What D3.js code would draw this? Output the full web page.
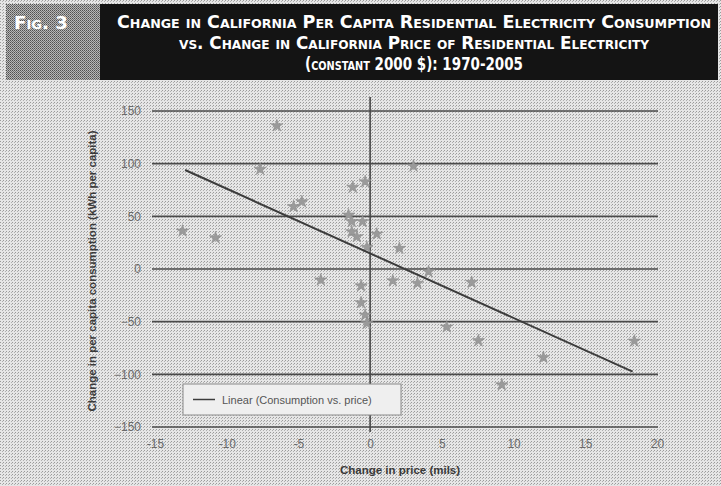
<!DOCTYPE html>
<html><head><meta charset="utf-8">
<script src="https://cdn.jsdelivr.net/npm/d3@7"></script>
<style>
html,body{margin:0;padding:0;background:#d9d9d9;}
svg{display:block;}
</style></head>
<body>
<script>
// ---- data ----
const priceChange = [-6.5,-7.67,-5.34,-4.76,-13.08,-10.78,-3.44,
  3.02,-0.35,-1.21,-1.51,-1.28,-0.53,-1.28,-0.93,0.46,2.04,-0.23,4.07,1.58,3.3,-0.63,-0.63,-0.35,-0.23,
  5.34,7.08,7.55,12.08,18.42,9.18];
const consumptionChange = [136,94.7,59.2,63.9,36,29.7,-10.4,
  97.8,82.9,77.6,51.3,45,45,35.4,30.7,33.2,19.6,20.6,-2.5,-11.1,-13.6,-16,-32,-43.7,-51.6,
  -55,-12.7,-68,-84,-68.4,-110];
const trendX = [-12.9, 18.3];
const trendY = [94, -97.5];
const xTicks = [-15,-10,-5,0,5,10,15,20];
const yTicks = [150,100,50,0,-50,-100,-150];
const titleLines = ["Change in California Per Capita Residential Electricity Consumption",
  "vs. Change in California Price of Residential Electricity",
  "(constant 2000 $): 1970-2005"];
const figLabel = "Fig. 3";
const xTitle = "Change in price (mils)";
const yTitle = "Change in per capita consumption (kWh per capita)";
const legendLabel = "Linear (Consumption vs. price)";

const W = 721, H = 486;
const svg = d3.select("body").append("svg").attr("width", W).attr("height", H);

// dithered-look background pattern
const defs = svg.append("defs");
const pat = defs.append("pattern").attr("id","dith").attr("width",3).attr("height",3).attr("patternUnits","userSpaceOnUse");
pat.append("rect").attr("width",3).attr("height",3).attr("fill","#e6e6e6");
pat.append("rect").attr("x",0).attr("y",0).attr("width",1).attr("height",1).attr("fill","#9a9a9a");
pat.append("rect").attr("x",2).attr("y",1).attr("width",1).attr("height",1).attr("fill","#b0b0b0");
svg.append("rect").attr("width",W).attr("height",H).attr("fill","url(#dith)");

// header
const pat2 = defs.append("pattern").attr("id","dith2").attr("width",2).attr("height",2).attr("patternUnits","userSpaceOnUse");
pat2.append("rect").attr("width",2).attr("height",2).attr("fill","#b8b8b8");
pat2.append("rect").attr("width",1).attr("height",1).attr("fill","#505050");
pat2.append("rect").attr("x",1).attr("y",1).attr("width",1).attr("height",1).attr("fill","#707070");
svg.append("rect").attr("x",6).attr("y",4).attr("width",94).attr("height",76).attr("fill","url(#dith2)");
svg.append("rect").attr("x",100).attr("y",4).attr("width",618).attr("height",76).attr("fill","#141414");
svg.append("text").attr("x",14).attr("y",29)
  .attr("font-family","DejaVu Sans Condensed, sans-serif").attr("font-weight","bold")
  .attr("font-size",18).attr("fill","#ffffff").style("font-variant","small-caps")
  .attr("textLength",54).attr("lengthAdjust","spacingAndGlyphs").text(figLabel);
const tlen = [594, 470, 218];
titleLines.forEach((t,i)=>{
  svg.append("text").attr("x",414).attr("y",28 + i*21).attr("text-anchor","middle")
    .attr("font-family","DejaVu Sans Condensed, sans-serif").attr("font-weight","bold")
    .attr("font-size",18).attr("fill","#ffffff").style("font-variant","small-caps")
    .attr("textLength",tlen[i]).attr("lengthAdjust","spacingAndGlyphs").text(t);
});

// scales
const x = d3.scaleLinear().domain([-15,20]).range([155,657]);
const y = d3.scaleLinear().domain([-150,150]).range([427,111]);

// gridlines
const g = svg.append("g");
g.selectAll("line.grid").data(yTicks).join("line")
  .attr("x1",152).attr("x2",658)
  .attr("y1",d=>y(d)).attr("y2",d=>y(d))
  .attr("stroke","#4a4a4a").attr("stroke-width",1.6);

// y axis (crossing at x=0)
g.append("line").attr("x1",x(0)).attr("x2",x(0)).attr("y1",97).attr("y2",432)
  .attr("stroke","#4a4a4a").attr("stroke-width",1.6);

// y tick labels
const yAxis = d3.axisLeft(y).tickValues(yTicks).tickSize(0).tickPadding(0);
const ya = svg.append("g").attr("transform","translate(141,0)").call(yAxis);
ya.select(".domain").remove();
ya.selectAll("text").attr("font-family","Liberation Sans, Arial, sans-serif")
  .attr("font-size",12).attr("fill","#6a6a6a");

// x tick labels
const xAxis = d3.axisBottom(x).tickValues(xTicks).tickSize(0).tickPadding(0).tickFormat(d3.format("d"));
const xa = svg.append("g").attr("transform","translate(0,439)").call(xAxis);
xa.select(".domain").remove();
xa.selectAll("text").attr("font-family","Liberation Sans, Arial, sans-serif")
  .attr("font-size",12).attr("fill","#6a6a6a");
xa.selectAll("text").text(d=> d<0 ? "-" + Math.abs(d) : d);

// axis titles
svg.append("text").attr("x",400).attr("y",474).attr("text-anchor","middle")
  .attr("font-family","Liberation Sans Narrow, Arial Narrow, sans-serif").attr("font-weight","bold")
  .attr("font-size",11.5).attr("fill","#3a3a3a").text(xTitle);
svg.append("text").attr("transform","translate(96,271) rotate(-90)").attr("text-anchor","middle")
  .attr("font-family","Liberation Sans Narrow, Arial Narrow, sans-serif").attr("font-weight","bold")
  .attr("font-size",11.5).attr("fill","#3a3a3a").text(yTitle);

// points
const pts = priceChange.map((p,i)=>({x:p, y:consumptionChange[i]}));
svg.append("g").selectAll("path").data(pts).join("path")
  .attr("d", d3.symbol().type(d3.symbolStar).size(48))
  .attr("transform", d=>`translate(${x(d.x)},${y(d.y)})`)
  .attr("fill","#9a9a9a").attr("stroke","#888").attr("stroke-width",0.5);

// trend line
const line = d3.line().x(d=>x(d[0])).y(d=>y(d[1]));
svg.append("path").datum(trendX.map((v,i)=>[v,trendY[i]])).attr("d",line)
  .attr("fill","none").attr("stroke","#3c3c3c").attr("stroke-width",2);

// legend
const lg = svg.append("g");
lg.append("rect").attr("x",183).attr("y",384).attr("width",218).attr("height",31)
  .attr("fill","#efefef").attr("stroke","#8a8a8a").attr("stroke-width",1);
lg.append("line").attr("x1",193).attr("x2",215).attr("y1",399.5).attr("y2",399.5)
  .attr("stroke","#3c3c3c").attr("stroke-width",1.5);
lg.append("text").attr("x",222).attr("y",403.5)
  .attr("font-family","Liberation Sans Narrow, Arial Narrow, sans-serif")
  .attr("font-size",11).attr("fill","#555").text(legendLabel);
</script>
</body></html>
